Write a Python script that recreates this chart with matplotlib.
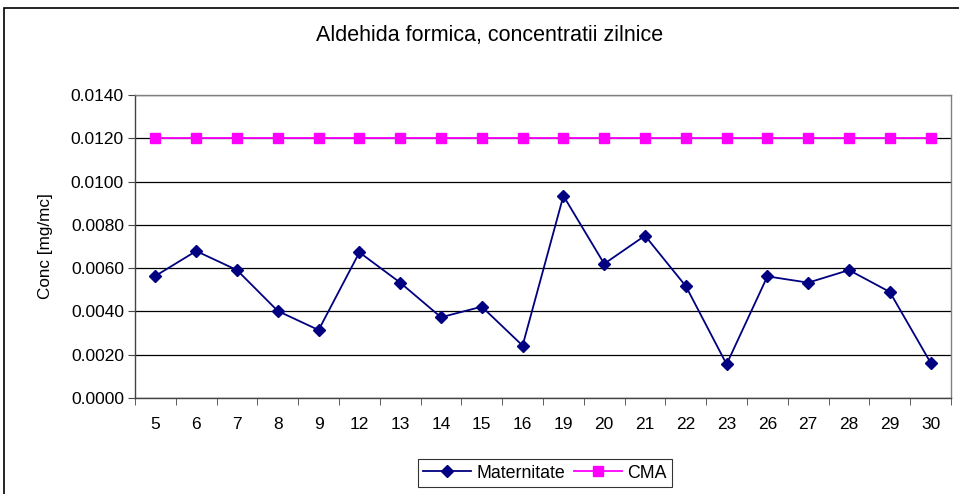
import matplotlib.pyplot as plt
from matplotlib.patches import Rectangle
from matplotlib.ticker import FixedLocator, FormatStrFormatter

zile = ['5', '6', '7', '8', '9', '12', '13', '14', '15', '16',
        '19', '20', '21', '22', '23', '26', '27', '28', '29', '30']
maternitate = [0.00564, 0.00679, 0.00591, 0.00402, 0.00314, 0.00673, 0.00533, 0.00373, 0.00422, 0.00242,
               0.00934, 0.00620, 0.00750, 0.00517, 0.00156, 0.00562, 0.00533, 0.00591, 0.00490, 0.00163]
cma = [0.012] * len(zile)

plt.rcParams['font.family'] = ['Liberation Sans', 'DejaVu Sans']

fig = plt.figure(figsize=(9.59, 4.94), dpi=100)
ax = fig.add_axes([135/959, 96/494, 816/959, 303/494])

x = list(range(len(zile)))
ax.plot(x, maternitate, color='#000080', lw=1.3, marker='D', ms=6.5,
        mfc='#000080', mec='#000080', label='Maternitate')
ax.plot(x, cma, color='#FF00FF', lw=1.3, marker='s', ms=6.5,
        mfc='#FF00FF', mec='#FF00FF', label='CMA')

ax.set_xlim(-0.5, len(zile) - 0.5)
ax.set_ylim(0, 0.014)
ax.set_yticks([0.002 * i for i in range(8)])
ax.yaxis.set_major_formatter(FormatStrFormatter('%.4f'))
ax.grid(axis='y', color='black', lw=0.9)
ax.set_axisbelow(True)

ax.set_xticks(x)
ax.set_xticklabels(zile)
ax.xaxis.set_minor_locator(FixedLocator([i - 0.5 for i in range(len(zile) + 1)]))
ax.tick_params(axis='x', which='major', length=0, pad=14, labelsize=12.5)
ax.tick_params(axis='x', which='minor', length=5, color='#444444')
ax.tick_params(axis='y', length=5, color='#444444', labelsize=12.5, pad=3)

for s in ['top', 'right']:
    ax.spines[s].set_color('#808080')
ax.spines['left'].set_color('#444444')
ax.spines['bottom'].set_color('#444444')
for s in ax.spines.values():
    s.set_linewidth(1.0)

ax.set_ylabel('Conc [mg/mc]', fontsize=12.3, labelpad=13)
fig.text(490/959, 1 - 36/494, 'Aldehida formica, concentratii zilnice',
         ha='center', va='center', fontsize=15.5)

leg = fig.legend(loc='center', bbox_to_anchor=(545/959, 1 - 473/494), ncol=2,
                 frameon=True, fancybox=False, edgecolor='black', fontsize=12.8,
                 handlelength=2.7, columnspacing=0.5, handletextpad=0.3,
                 borderpad=0.3)
leg.get_frame().set_linewidth(0.8)

fig.patches.append(Rectangle((4/959, -0.02), 1.0, 1 - 8/494 + 0.02,
                             transform=fig.transFigure, fill=False,
                             edgecolor='black', lw=1.2))

fig.savefig('out.png', dpi=100)
